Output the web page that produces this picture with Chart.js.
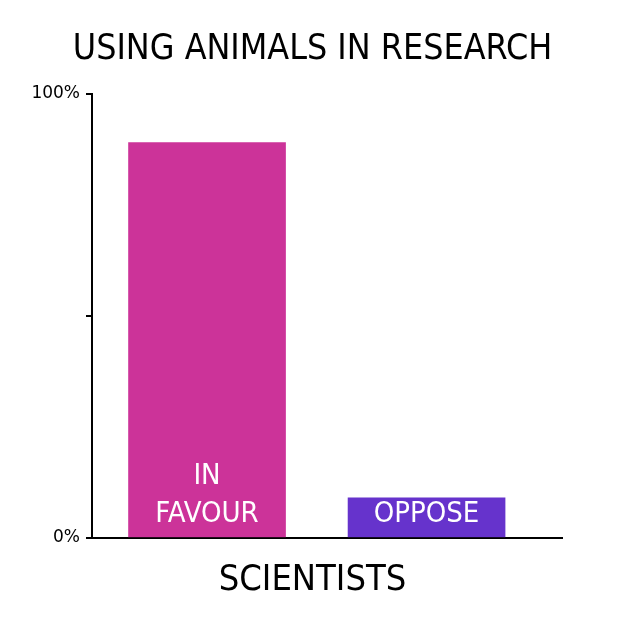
<!DOCTYPE html>
<html>
<head>
<meta charset="utf-8">
<script src="https://cdn.jsdelivr.net/npm/chart.js@4"></script>
<style>
  html, body { margin: 0; padding: 0; background: #fff; }
  #wrap { width: 625px; height: 625px; }
</style>
</head>
<body>
<div id="wrap"><canvas id="chart" width="625" height="625"></canvas></div>
<script>
// ─── Data ──────────────────────────────────────────────────────────────────
const title = "USING ANIMALS IN RESEARCH";
const groupLabel = "SCIENTISTS";
const categories = ["IN FAVOUR", "OPPOSE"];
const barLines = [["IN", "FAVOUR"], ["OPPOSE"]];
const values = [89, 9];
const barColors = ["#cc3399", "#6633cc"];
const yTicks = { 0: "0%", 100: "100%" };

const FONT = "'Liberation Sans Narrow', 'DejaVu Sans Condensed', Lato, sans-serif";

// Writes the white labels inside each bar, bottom-aligned
const barLabelPlugin = {
  id: "barLabels",
  afterDatasetsDraw(chart) {
    const ctx = chart.ctx;
    const meta = chart.getDatasetMeta(0);
    ctx.save();
    ctx.fillStyle = "#fff";
    ctx.font = "29px " + FONT;
    ctx.textAlign = "center";
    ctx.textBaseline = "middle";
    meta.data.forEach((bar, i) => {
      const lines = barLines[i];
      const base = bar.base;
      lines.forEach((ln, j) => {
        const fromBottom = lines.length - 1 - j;
        ctx.fillText(ln, bar.x, base - 22 - fromBottom * 38);
      });
    });
    ctx.restore();
  },
};

new Chart(document.getElementById("chart"), {
  type: "bar",
  data: {
    labels: categories,
    datasets: [{
      data: values.map((v, i) => ({ x: i, y: v })),
      backgroundColor: barColors,
      borderWidth: 0,
      barThickness: 157,
    }],
  },
  options: {
    responsive: false,
    animation: false,
    layout: { padding: 0 },
    plugins: {
      legend: { display: false },
      tooltip: { enabled: false },
      title: {
        display: true,
        text: title,
        color: "#000",
        font: { family: FONT, size: 35.5, weight: "normal" },
        padding: { top: 28, bottom: 23 },
      },
      // group name under the axis, centred on the whole canvas like the title
      subtitle: {
        display: true,
        position: "bottom",
        text: groupLabel,
        color: "#000",
        font: { family: FONT, size: 36, weight: "normal" },
        padding: { top: 10, bottom: 23 },
      },
    },
    scales: {
      x: {
        type: "linear",
        offset: false,
        min: -0.524,
        max: 1.617,
        ticks: { display: false },
        grid: { display: false },
        border: { display: true, color: "#000", width: 2 },
        afterFit(scale) { scale.height = 11; },
      },
      y: {
        min: 0,
        max: 100,
        ticks: {
          stepSize: 50,
          color: "#000",
          padding: 6,
          font: { family: "'DejaVu Sans', sans-serif", size: 17 },
          callback: (v) => yTicks[v] || "",
        },
        grid: {
          drawOnChartArea: false,
          drawTicks: true,
          tickLength: 6,
          color: "#000",
          lineWidth: 2,
        },
        border: { display: true, color: "#000", width: 2 },
        afterFit(scale) { scale.width = 92; },
      },
      // empty right-hand strip so the plot ends where the reference does
      yRight: {
        position: "right",
        display: true,
        ticks: { display: false },
        grid: { display: false },
        border: { display: false },
        afterFit(scale) { scale.width = 63; },
      },
    },
  },
  plugins: [barLabelPlugin],
});
</script>
</body>
</html>
